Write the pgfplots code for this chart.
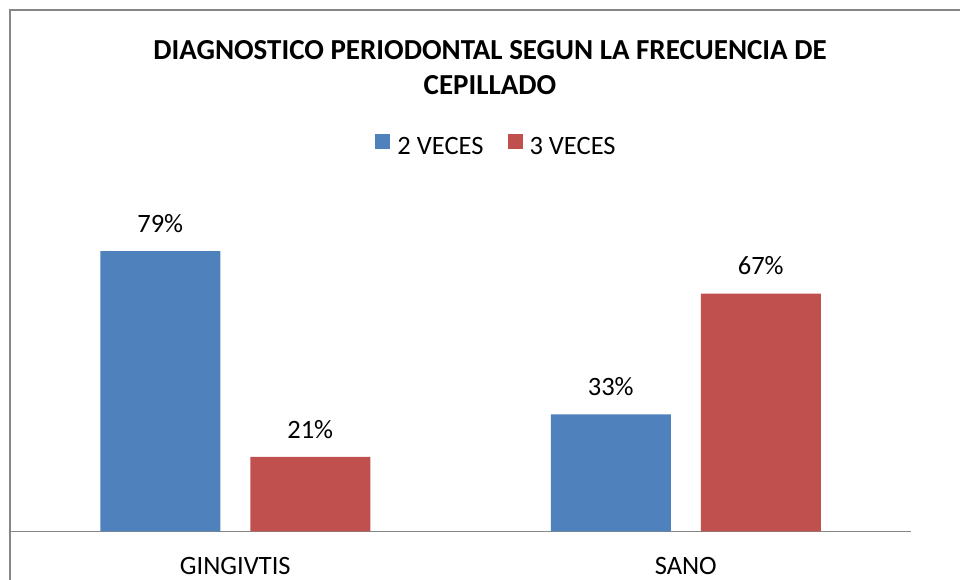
\documentclass[border=0pt]{standalone}
\usepackage{pgfplots}
\pgfplotsset{compat=1.18}
\usepackage{fontspec}
\setmainfont{Carlito}
\definecolor{barblue}{HTML}{4F81BD}
\definecolor{barred}{HTML}{C0504D}
\definecolor{framegray}{HTML}{868686}
\newcommand{\lblfont}{\fontsize{26.5}{30}\selectfont}
\begin{document}
\begin{tikzpicture}[x=1pt,y=1pt]
\path[use as bounding box] (0,0) rectangle (960,580);
\begin{scope}
\clip (0,0) rectangle (960,580);
\draw[framegray, line width=2pt] (10,-20) rectangle (990,570);
\end{scope}
\node[font=\bfseries\fontsize{29}{35}\selectfont, align=center] at (490,512) {DIAGNOSTICO PERIODONTAL SEGUN LA FRECUENCIA DE\\CEPILLADO};
\begin{axis}[
  at={(10pt,48.5pt)}, anchor=south west,
  scale only axis, width=901pt, height=319.5pt,
  xmin=-0.5, xmax=1.5, ymin=0, ymax=90,
  ybar=30pt, bar width=120pt,
  /pgf/number format/assume math mode=true,
  axis y line=none, axis x line=bottom,
  x axis line style={-, framegray, line width=1.5pt},
  xtick={0,1}, xticklabels={GINGIVTIS,SANO},
  xtick style={draw=none},
  xticklabel style={font=\lblfont, anchor=base, yshift=-41pt},
  nodes near coords={\pgfmathprintnumber{\pgfplotspointmeta}\%},
  every node near coord/.append style={font=\lblfont, text=black, yshift=15pt},
  legend columns=2,
  legend style={draw=none, at={(0.54,1.2066)}, anchor=center, font=\lblfont,
    /tikz/every odd column/.append style={column sep=5pt},
    /tikz/every even column/.append style={column sep=22pt}},
  legend image code/.code={\fill[#1] (0pt,-3pt) rectangle (15pt,12pt);},
]
\addplot[fill=barblue, draw=none] coordinates {(0,79) (1,33)};
\addplot[fill=barred, draw=none] coordinates {(0,21) (1,67)};
\legend{2 VECES,3 VECES}
\end{axis}
\end{tikzpicture}
\end{document}
